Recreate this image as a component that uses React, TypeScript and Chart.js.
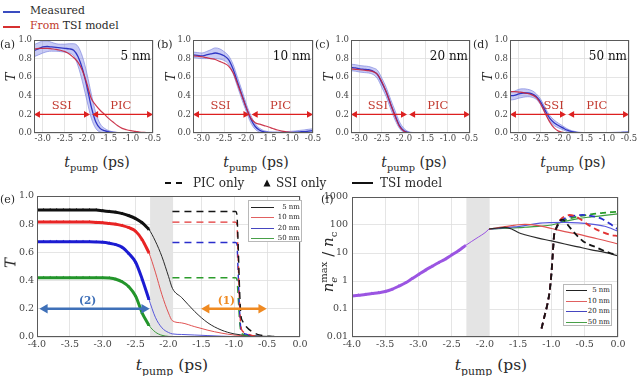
import React, { useEffect, useRef } from "react";
import { Chart, registerables } from "chart.js";

Chart.register(...registerables);

const FONT = "'DejaVu Serif', serif";
const INK = "#2a2a2a";
const TICK = "#444";
const GRID = "#dedede";

// ================= DATA: top panels (a)-(d) =================
const TOP_T = [-3.2, -3.1, -3.0, -2.9, -2.8, -2.7, -2.6, -2.5, -2.4, -2.3, -2.2, -2.1, -2.0, -1.9, -1.8, -1.7, -1.6, -1.5, -1.4, -1.3, -1.2, -1.1, -1.0, -0.9, -0.8, -0.7, -0.6, -0.5];
const TOP_X_TICKS = [-3.0, -2.5, -2.0, -1.5, -1.0, -0.5];
const TOP_Y_TICKS = [0, 0.2, 0.4, 0.6, 0.8, 1.0];

const A_MEAS = [0.885, 0.905, 0.925, 0.93, 0.925, 0.92, 0.915, 0.91, 0.905, 0.89, 0.82, 0.69, 0.5, 0.28, 0.12, 0.05, 0.025, 0.012, 0.006, 0.003, 0.001, 0, 0, 0, 0, 0, 0, 0];
const A_UP = [0.95, 0.97, 0.99, 0.99, 0.975, 0.96, 0.955, 0.955, 0.96, 0.96, 0.93, 0.82, 0.64, 0.42, 0.22, 0.1, 0.05, 0.025, 0.012, 0.006, 0.003, 0.001, 0, 0, 0, 0, 0, 0];
const A_LO = [0.82, 0.84, 0.86, 0.875, 0.88, 0.88, 0.875, 0.87, 0.86, 0.83, 0.72, 0.55, 0.35, 0.16, 0.05, 0.01, 0, 0, 0, 0, 0, 0, 0, 0, 0, 0, 0, 0];
const A_MODEL = [0.9, 0.91, 0.91, 0.91, 0.905, 0.9, 0.89, 0.875, 0.85, 0.81, 0.76, 0.67, 0.53, 0.37, 0.3, 0.245, 0.2, 0.155, 0.115, 0.078, 0.05, 0.035, 0.025, 0.018, 0.01, 0.006, 0.003, 0.001];

const B_MEAS = [0.84, 0.835, 0.83, 0.84, 0.85, 0.86, 0.85, 0.83, 0.79, 0.69, 0.55, 0.41, 0.27, 0.15, 0.07, 0.03, 0.012, 0.005, 0.003, 0.002, 0.002, 0.003, 0.005, 0.008, 0.012, 0.015, 0.02, 0.025];
const B_UP = [0.87, 0.865, 0.86, 0.875, 0.895, 0.915, 0.905, 0.875, 0.83, 0.74, 0.6, 0.46, 0.31, 0.19, 0.1, 0.05, 0.025, 0.015, 0.012, 0.012, 0.013, 0.015, 0.018, 0.022, 0.028, 0.033, 0.04, 0.045];
const B_LO = [0.81, 0.805, 0.8, 0.8, 0.8, 0.8, 0.795, 0.78, 0.74, 0.64, 0.5, 0.36, 0.23, 0.11, 0.04, 0.01, 0, 0, 0, 0, 0, 0, 0, 0, 0, 0.002, 0.005, 0.008];
const B_MODEL = [0.83, 0.825, 0.82, 0.81, 0.8, 0.79, 0.77, 0.75, 0.72, 0.65, 0.53, 0.4, 0.27, 0.16, 0.11, 0.095, 0.08, 0.065, 0.048, 0.032, 0.02, 0.012, 0.006, 0.003, 0.001, 0, 0, 0];

const C_MEAS = [0.705, 0.7, 0.69, 0.685, 0.68, 0.665, 0.63, 0.54, 0.44, 0.31, 0.19, 0.08, 0.025, 0.006, 0.002, 0.001, 0, 0, 0, 0, 0, 0, 0, 0, 0, 0, 0, 0.002];
const C_UP = [0.74, 0.735, 0.725, 0.72, 0.715, 0.7, 0.675, 0.59, 0.49, 0.36, 0.24, 0.12, 0.05, 0.015, 0.006, 0.004, 0.003, 0.003, 0.003, 0.003, 0.003, 0.003, 0.003, 0.003, 0.003, 0.004, 0.005, 0.006];
const C_LO = [0.67, 0.665, 0.655, 0.65, 0.645, 0.63, 0.585, 0.49, 0.39, 0.26, 0.14, 0.05, 0.005, 0, 0, 0, 0, 0, 0, 0, 0, 0, 0, 0, 0, 0, 0, 0];
const C_MODEL = [0.69, 0.685, 0.68, 0.675, 0.67, 0.66, 0.63, 0.55, 0.44, 0.31, 0.18, 0.07, 0.02, 0.004, 0, 0, 0, 0, 0, 0, 0, 0, 0, 0, 0, 0, 0, 0];

const D_MEAS = [0.4, 0.405, 0.42, 0.43, 0.43, 0.42, 0.39, 0.33, 0.24, 0.16, 0.11, 0.08, 0.055, 0.03, 0.015, 0.007, 0.003, 0.001, 0, 0, 0, 0, 0.001, 0.002, 0.003, 0.004, 0.006, 0.008];
const D_UP = [0.44, 0.45, 0.47, 0.475, 0.47, 0.455, 0.42, 0.36, 0.27, 0.19, 0.14, 0.105, 0.075, 0.045, 0.025, 0.013, 0.007, 0.004, 0.003, 0.003, 0.003, 0.004, 0.005, 0.006, 0.008, 0.01, 0.012, 0.014];
const D_LO = [0.355, 0.36, 0.375, 0.385, 0.39, 0.385, 0.36, 0.3, 0.21, 0.13, 0.08, 0.055, 0.035, 0.015, 0.005, 0.001, 0, 0, 0, 0, 0, 0, 0, 0, 0, 0, 0, 0.002];
const D_MODEL = [0.445, 0.445, 0.44, 0.435, 0.425, 0.41, 0.38, 0.31, 0.21, 0.12, 0.055, 0.02, 0.007, 0.002, 0, 0, 0, 0, 0, 0, 0, 0, 0, 0, 0, 0, 0, 0];

const TOP_ARROW_Y = 0.2;
const SSI_ARROW_X = [-3.11, -2.02];
const PIC_ARROW_X = [-1.79, -0.59];
const TOP_TEXT_Y = 0.29;
const PIC_TEXT_X = -1.23;
const SSI_TEXT_X = [-2.57, -2.58, -2.59, -2.21];
const NM_LABELS = ["5 nm", "10 nm", "20 nm", "50 nm"];

// ================= DATA: panel (e) =================
const E_X_TICKS = [-4.0, -3.5, -3.0, -2.5, -2.0, -1.5, -1.0, -0.5, 0.0];
const E_Y_TICKS = [0, 0.2, 0.4, 0.6, 0.8, 1.0];
const SHADE = [-2.28, -1.93];

const E_SSI_T = [-4.0, -3.9, -3.8, -3.7, -3.6, -3.5, -3.4, -3.3, -3.2, -3.1, -3.0, -2.9, -2.8, -2.7, -2.6, -2.5, -2.4, -2.3];
const E_SSI_5 = [0.9, 0.9, 0.9, 0.9, 0.9, 0.9, 0.9, 0.9, 0.9, 0.9, 0.895, 0.89, 0.885, 0.875, 0.86, 0.84, 0.81, 0.765];
const E_SSI_10 = [0.815, 0.815, 0.815, 0.815, 0.815, 0.815, 0.815, 0.815, 0.815, 0.812, 0.81, 0.805, 0.8, 0.79, 0.775, 0.75, 0.69, 0.6];
const E_SSI_20 = [0.675, 0.675, 0.675, 0.675, 0.675, 0.675, 0.675, 0.675, 0.675, 0.674, 0.672, 0.665, 0.655, 0.635, 0.59, 0.53, 0.41, 0.27];
const E_SSI_50 = [0.42, 0.42, 0.42, 0.42, 0.42, 0.42, 0.42, 0.42, 0.42, 0.42, 0.42, 0.418, 0.41, 0.39, 0.355, 0.29, 0.17, 0.085];

const E_TSI_T = [-4.0, -3.5, -3.0, -2.8, -2.6, -2.5, -2.4, -2.3, -2.2, -2.1, -2.0, -1.94, -1.8, -1.6, -1.4, -1.2, -1.0, -0.8, -0.6, -0.4, -0.2, 0.0];
const E_TSI_5 = [0.9, 0.9, 0.895, 0.885, 0.86, 0.84, 0.81, 0.765, 0.68, 0.57, 0.43, 0.345, 0.28, 0.18, 0.1, 0.05, 0.022, 0.011, 0.006, 0.003, 0.001, 0];
const E_TSI_10 = [0.815, 0.815, 0.81, 0.8, 0.775, 0.75, 0.69, 0.6, 0.46, 0.3, 0.17, 0.115, 0.1, 0.073, 0.048, 0.028, 0.014, 0.007, 0.003, 0.001, 0, 0];
const E_TSI_20 = [0.675, 0.675, 0.672, 0.655, 0.59, 0.53, 0.41, 0.27, 0.14, 0.065, 0.032, 0.022, 0.018, 0.014, 0.01, 0.006, 0.003, 0.001, 0, 0, 0, 0];
const E_TSI_50 = [0.42, 0.42, 0.42, 0.41, 0.355, 0.29, 0.17, 0.085, 0.035, 0.012, 0.004, 0.002, 0.001, 0, 0, 0, 0, 0, 0, 0, 0, 0];

const E_PIC_T = [-1.94, -0.98, -0.96, -0.94, -0.92, -0.9, -0.87, -0.82, -0.72, -0.62, -0.42, -0.22, 0.0];
const E_PIC_5 = [0.89, 0.89, 0.87, 0.65, 0.35, 0.16, 0.11, 0.075, 0.035, 0.015, 0.004, 0.001, 0];
const E_PIC_10 = [0.815, 0.815, 0.8, 0.55, 0.25, 0.08, 0.04, 0.025, 0.01, 0.005, 0.001, 0, 0];
const E_PIC_20 = [0.67, 0.67, 0.66, 0.45, 0.2, 0.06, 0.03, 0.02, 0.008, 0.004, 0.001, 0, 0];
const E_PIC_50 = [0.42, 0.42, 0.41, 0.28, 0.12, 0.04, 0.02, 0.012, 0.006, 0.003, 0.001, 0, 0];

const ARROW2_X = [-3.88, -2.37];
const ARROW1_X = [-1.42, -0.59];
const E_ARROW_Y = 0.2;
const LABEL2 = { x: -3.23, y: 0.255, text: "(2)" };
const LABEL1 = { x: -1.12, y: 0.255, text: "(1)" };

// ================= DATA: panel (f) =================
const F_Y_TICKS = [0.01, 0.1, 1, 10, 100, 1000];
const F_Y_LABELS = ["0.01", "0.1", "1", "10", "100", "1000"];

const F_SSI_T = [-4.0, -3.9, -3.8, -3.7, -3.6, -3.5, -3.4, -3.3, -3.2, -3.1, -3.0, -2.9, -2.8, -2.7, -2.6, -2.5, -2.4, -2.3];
const F_SSI = [0.29, 0.31, 0.33, 0.355, 0.38, 0.42, 0.5, 0.65, 0.85, 1.2, 1.7, 2.4, 3.3, 4.5, 6.0, 8.5, 12, 18];
const F_LINK_T = [-2.3, -2.2, -2.1, -2.0, -1.94];
const F_LINK = [18, 26, 37, 53, 72];

const F_TSI_T = [-1.94, -1.8, -1.7, -1.6, -1.5, -1.4, -1.2, -1.0, -0.8, -0.6, -0.4, -0.2, 0.0];
const F_TSI_5 = [72, 78, 82, 72, 54, 45, 34, 27, 21, 16.5, 13, 10.5, 8];
const F_TSI_10 = [72, 80, 88, 95, 102, 105, 95, 75, 58, 47, 36, 28, 21];
const F_TSI_20 = [72, 76, 80, 84, 88, 95, 115, 122, 124, 120, 108, 90, 60];
const F_TSI_50 = [72, 74, 76, 78, 80, 83, 90, 100, 135, 170, 195, 220, 250];

const F_PIC_T = [-1.15, -1.11, -1.07, -1.03, -1.0, -0.98, -0.96, -0.93, -0.9, -0.87, -0.83, -0.78, -0.73, -0.63, -0.53, -0.43, -0.33, -0.23, -0.12, 0.0];
const F_PIC_5 = [0.02, 0.05, 0.12, 0.4, 2, 10, 45, 75, 110, 145, 155, 120, 85, 45, 27, 20, 16, 12.5, 10, 8.5];
const F_PIC_10 = [0.02, 0.05, 0.12, 0.4, 2, 10, 45, 75, 115, 150, 185, 210, 228, 200, 140, 95, 70, 55, 45, 40];
const F_PIC_20 = [0.02, 0.05, 0.12, 0.4, 2, 10, 45, 75, 105, 130, 155, 180, 200, 220, 230, 215, 195, 160, 110, 70];
const F_PIC_50 = [0.02, 0.05, 0.12, 0.4, 2, 10, 45, 75, 100, 120, 140, 155, 170, 195, 215, 235, 255, 270, 285, 295];

const LEGEND_NAMES = ["5 nm", "10 nm", "20 nm", "50 nm"];

// ================= STYLE =================
const MEAS_COLOR = "#3036c4";
const MODEL_COLOR = "rgba(200,36,60,0.9)";
const BAND_EDGE = "#7f86e0";
const BAND_FILL = "rgba(110,118,230,0.38)";
const ARROW_RED = "#dd2020";
const TEXT_RED = "#c23a30";
const THICK = ["#111111", "#e82424", "#1c1cd2", "#23952b"];
const THIN = ["#2a2a2a", "#e05252", "#5858dc", "#3d9d3d"];
const DASH = ["#151515", "#e23434", "#2a2ecc", "#2c9c2c"];
const LEG = ["#222222", "#e06060", "#4646c0", "#48a048"];
const PURPLE = "#9b55e2";
const ORANGE = "#ef8a22";
const BLUE_ARROW = "#3f70b8";

const pts = (xs: number[], ys: number[]) => xs.map((x, i) => ({ x, y: ys[i] }));

// ================= PLUGINS =================
const framePlugin = {
  id: "frame",
  afterDraw(chart: any) {
    const { ctx, chartArea: a } = chart;
    ctx.save();
    ctx.strokeStyle = "#5a5a5a";
    ctx.lineWidth = 1;
    ctx.strokeRect(Math.round(a.left) + 0.5, Math.round(a.top) + 0.5, Math.round(a.right - a.left) - 1, Math.round(a.bottom - a.top) - 1);
    ctx.restore();
  },
};

const shadePlugin = {
  id: "shade",
  beforeDatasetsDraw(chart: any, _args: any, opts: any) {
    if (!opts || !opts.range) return;
    const { ctx, chartArea: a, scales } = chart;
    const x0 = scales.x.getPixelForValue(opts.range[0]);
    const x1 = scales.x.getPixelForValue(opts.range[1]);
    ctx.save();
    ctx.fillStyle = opts.color || "#e4e4e4";
    ctx.fillRect(x0, a.top, x1 - x0, a.bottom - a.top);
    ctx.restore();
  },
};

const textPlugin = {
  id: "texts",
  afterDatasetsDraw(chart: any, _args: any, opts: any) {
    if (!opts || !opts.items) return;
    const { ctx, scales } = chart;
    ctx.save();
    for (const it of opts.items) {
      ctx.font = `${it.bold ? "bold " : ""}${it.size}px ${FONT}`;
      ctx.fillStyle = it.color;
      ctx.textAlign = it.align || "center";
      ctx.textBaseline = "middle";
      const px = it.px !== undefined ? chart.chartArea.right + it.px : scales.x.getPixelForValue(it.x);
      ctx.fillText(it.text, px, scales.y.getPixelForValue(it.y));
    }
    ctx.restore();
  },
};

// ================= CONFIG HELPERS =================
interface Axis {
  min: number;
  max: number;
  ticks: number[];
  fmt: (v: number, i: number) => string;
  size: number;
  pad: number;
  font: number;
  type?: string;
}

function makeOptions(x: Axis, y: Axis, padTop: number, padRight: number, plugins: any) {
  return {
    animation: false,
    responsive: false,
    events: [],
    layout: { padding: { top: padTop, right: padRight, left: 0, bottom: 0 } },
    elements: { point: { radius: 0 }, line: { cubicInterpolationMode: "monotone" } },
    plugins: { legend: { display: false }, tooltip: { enabled: false }, ...plugins },
    scales: {
      x: {
        type: "linear",
        min: x.min,
        max: x.max,
        grid: { color: GRID, lineWidth: 0.8, drawTicks: false },
        border: { display: false },
        ticks: { font: { family: FONT, size: x.font }, color: TICK, padding: x.pad, maxRotation: 0, autoSkip: false, callback: (v: any, i: number) => x.fmt(Number(v), i) },
        afterBuildTicks: (s: any) => {
          s.ticks = x.ticks.map((v) => ({ value: v }));
        },
        afterFit: (s: any) => {
          s.height = x.size;
          s.paddingLeft = 0;
          s.paddingRight = 0;
        },
      },
      y: {
        type: y.type || "linear",
        min: y.min,
        max: y.max,
        grid: { color: GRID, lineWidth: 0.8, drawTicks: false },
        border: { display: false },
        ticks: { font: { family: FONT, size: y.font }, color: TICK, padding: y.pad, autoSkip: false, callback: (v: any, i: number) => y.fmt(Number(v), i) },
        afterBuildTicks: (s: any) => {
          s.ticks = y.ticks.map((v) => ({ value: v }));
        },
        afterFit: (s: any) => {
          s.width = y.size;
          s.paddingTop = 0;
          s.paddingBottom = 0;
        },
      },
    },
  };
}

const fix1 = (v: number) => v.toFixed(1);

function arrowDataset(xs: number[], yv: number, color: string, width: number, r: number) {
  return {
    data: pts(xs, [yv, yv]),
    borderColor: color,
    borderWidth: width,
    pointStyle: "triangle",
    pointRadius: r,
    pointRotation: [270, 90],
    pointBackgroundColor: color,
    pointBorderWidth: 0,
    cubicInterpolationMode: "default",
    tension: 0,
  };
}

interface Geom {
  x: number;
  y: number;
  w: number;
  h: number;
  yW: number;
  xH: number;
  padT: number;
  padR: number;
}
function geom(L: number, T: number, R: number, B: number, yW: number, xH: number, padT: number, padR: number): Geom {
  return { x: L - yW, y: T - padT, w: R - L + yW + padR, h: B - T + padT + xH, yW, xH, padT, padR };
}

const GA = geom(34, 40, 153, 133, 24, 16, 6, 10);
const GB = geom(193, 40, 313, 133, 24, 16, 6, 10);
const GC = geom(351, 40, 470, 133, 24, 16, 6, 10);
const GD = geom(510, 40, 629, 133, 24, 16, 6, 9);
const GE = geom(37, 196, 300, 337, 26, 16, 6, 12);
const GF = geom(352, 197, 618, 337, 30, 16, 6, 12);

function topConfig(g: Geom, meas: number[], up: number[], lo: number[], model: number[], idx: number) {
  const x: Axis = { min: -3.2, max: -0.5, ticks: TOP_X_TICKS, fmt: fix1, size: g.xH, pad: 1, font: 8.5 };
  const y: Axis = { min: 0, max: 1, ticks: TOP_Y_TICKS, fmt: fix1, size: g.yW, pad: 2, font: 8.5 };
  return {
    type: "line",
    data: {
      datasets: [
        arrowDataset(SSI_ARROW_X, TOP_ARROW_Y, ARROW_RED, 1.2, 4),
        arrowDataset(PIC_ARROW_X, TOP_ARROW_Y, ARROW_RED, 1.2, 4),
        { data: pts(TOP_T, model), borderColor: MODEL_COLOR, borderWidth: 1.2 },
        { data: pts(TOP_T, meas), borderColor: MEAS_COLOR, borderWidth: 1.3 },
        { data: pts(TOP_T, up), borderColor: BAND_EDGE, borderWidth: 0.7, fill: false },
        { data: pts(TOP_T, lo), borderColor: BAND_EDGE, borderWidth: 0.7, fill: "-1", backgroundColor: BAND_FILL },
      ],
    },
    options: makeOptions(x, y, g.padT, g.padR, {
      texts: {
        items: [
          { x: SSI_TEXT_X[idx], y: TOP_TEXT_Y, text: "SSI", color: TEXT_RED, size: 11.5 },
          { x: PIC_TEXT_X, y: TOP_TEXT_Y, text: "PIC", color: TEXT_RED, size: 11.5 },
          { px: -2, y: 0.82, text: NM_LABELS[idx], color: "#111", size: 12, align: "right" },
        ],
      },
    }),
    plugins: [framePlugin, textPlugin],
  };
}

function eConfig(g: Geom) {
  const x: Axis = { min: -4, max: 0, ticks: E_X_TICKS, fmt: fix1, size: g.xH, pad: 2, font: 9.5 };
  const y: Axis = { min: 0, max: 1, ticks: E_Y_TICKS, fmt: fix1, size: g.yW, pad: 3, font: 9.5 };
  const ssi = [E_SSI_5, E_SSI_10, E_SSI_20, E_SSI_50];
  const tsi = [E_TSI_5, E_TSI_10, E_TSI_20, E_TSI_50];
  const pic = [E_PIC_5, E_PIC_10, E_PIC_20, E_PIC_50];
  const datasets: any[] = [arrowDataset(ARROW2_X, E_ARROW_Y, BLUE_ARROW, 2.4, 5.5), arrowDataset(ARROW1_X, E_ARROW_Y, ORANGE, 2.4, 5.5)];
  ssi.forEach((s, i) =>
    datasets.push({ data: pts(E_SSI_T, s), borderColor: THICK[i], borderWidth: 3, pointStyle: "triangle", pointRadius: 2, pointBackgroundColor: THICK[i], pointBorderWidth: 0 })
  );
  pic.forEach((s, i) => datasets.push({ data: pts(E_PIC_T, s), borderColor: DASH[i], borderWidth: 1.4, borderDash: [7, 5] }));
  tsi.forEach((s, i) => datasets.push({ data: pts(E_TSI_T, s), borderColor: THIN[i], borderWidth: 1 }));
  return {
    type: "line",
    data: { datasets },
    options: makeOptions(x, y, g.padT, g.padR, {
      shade: { range: SHADE, color: "#e4e4e4" },
      texts: {
        items: [
          { x: LABEL2.x, y: LABEL2.y, text: LABEL2.text, color: BLUE_ARROW, size: 10.5, bold: true },
          { x: LABEL1.x, y: LABEL1.y, text: LABEL1.text, color: ORANGE, size: 10.5, bold: true },
        ],
      },
    }),
    plugins: [shadePlugin, framePlugin, textPlugin],
  };
}

function fConfig(g: Geom) {
  const x: Axis = { min: -4, max: 0, ticks: E_X_TICKS, fmt: fix1, size: g.xH, pad: 2, font: 9.5 };
  const y: Axis = { min: 0.01, max: 1000, ticks: F_Y_TICKS, fmt: (_v, i) => F_Y_LABELS[i], size: g.yW, pad: 4, font: 9.5, type: "logarithmic" };
  const tsi = [F_TSI_5, F_TSI_10, F_TSI_20, F_TSI_50];
  const pic = [F_PIC_5, F_PIC_10, F_PIC_20, F_PIC_50];
  const datasets: any[] = [];
  datasets.push({ data: pts(F_SSI_T, F_SSI), borderColor: PURPLE, borderWidth: 3, pointStyle: "triangle", pointRadius: 2, pointBackgroundColor: PURPLE, pointBorderWidth: 0 });
  pic.forEach((s, i) => datasets.push({ data: pts(F_PIC_T, s), borderColor: DASH[i], borderWidth: 1.8, borderDash: [6, 4] }));
  tsi.forEach((s, i) => datasets.push({ data: pts(F_TSI_T, s), borderColor: THIN[i], borderWidth: 1.2 }));
  datasets.push({ data: pts(F_LINK_T, F_LINK), borderColor: PURPLE, borderWidth: 1 });
  return {
    type: "line",
    data: { datasets },
    options: makeOptions(x, y, g.padT, g.padR, { shade: { range: SHADE, color: "#e4e4e4" } }),
    plugins: [shadePlugin, framePlugin],
  };
}

// ================= COMPONENTS =================
function Panel({ g, make }: { g: Geom; make: () => any }) {
  const ref = useRef<HTMLCanvasElement>(null);
  useEffect(() => {
    const c = new Chart(ref.current as HTMLCanvasElement, make());
    return () => c.destroy();
  }, []);
  return <canvas ref={ref} width={g.w} height={g.h} style={{ position: "absolute", left: g.x, top: g.y, width: g.w, height: g.h }} />;
}

function Txt(props: { x: number; base: number; size: number; align?: string; color?: string; italic?: boolean; bold?: boolean; children: any }) {
  const { x, base, size, align = "left", color = INK, italic, bold, children } = props;
  const tx = align === "center" ? "-50%" : align === "right" ? "-100%" : "0";
  return (
    <div
      style={{
        position: "absolute",
        left: x,
        top: base - 0.846 * size,
        fontSize: size,
        lineHeight: 1,
        fontFamily: FONT,
        color,
        whiteSpace: "nowrap",
        transform: `translateX(${tx})`,
        fontStyle: italic ? "italic" : "normal",
        fontWeight: bold ? "bold" : "normal",
      }}
    >
      {children}
    </div>
  );
}

function Bar({ x, y, w, h, color }: { x: number; y: number; w: number; h: number; color: string }) {
  return <div style={{ position: "absolute", left: x, top: Math.round(y - h / 2), width: w, height: h, background: color }} />;
}

function XTitle({ cx, base, size }: { cx: number; base: number; size: number }) {
  return (
    <Txt x={cx} base={base} size={size} align="center">
      <i>t</i>
      <span style={{ fontSize: size * 0.7, verticalAlign: -size * 0.3 }}>pump</span> (ps)
    </Txt>
  );
}

function YT({ cx, cy, size }: { cx: number; cy: number; size: number }) {
  return (
    <div style={{ position: "absolute", left: cx, top: cy, transform: "translate(-50%,-50%) rotate(-90deg)", fontFamily: FONT, fontStyle: "italic", fontSize: size, lineHeight: 1, color: INK }}>
      T
    </div>
  );
}

function Legend({ x, y, w, h, rows, size }: { x: number; y: number; w: number; h: number; rows: number[]; size: number }) {
  return (
    <div style={{ position: "absolute", left: x, top: y, width: w, height: h, border: "1px solid #b8b8b8", background: "#fff", boxSizing: "border-box" }}>
      {LEGEND_NAMES.map((n, i) => (
        <React.Fragment key={n}>
          <Bar x={2} y={rows[i]} w={Math.round(w * 0.42)} h={1} color={LEG[i]} />
          <Txt x={w - 3} base={rows[i] + size * 0.36} size={size} align="right" color="#222">
            {n}
          </Txt>
        </React.Fragment>
      ))}
    </div>
  );
}

export default function App() {
  return (
    <div style={{ position: "fixed", left: 0, top: 0, width: 639, height: 376, background: "#fff", overflow: "hidden" }}>
      {/* top legend */}
      <Bar x={3} y={12} w={17} h={2} color="#3a4cc0" />
      <Txt x={30} base={15.5} size={10.8}>Measured</Txt>
      <Bar x={3} y={27} w={17} h={2} color="#d63030" />
      <Txt x={30} base={30.5} size={10.8}>
        <span style={{ color: "#c0392b" }}>From</span> TSI model
      </Txt>

      <Panel g={GA} make={() => topConfig(GA, A_MEAS, A_UP, A_LO, A_MODEL, 0)} />
      <Panel g={GB} make={() => topConfig(GB, B_MEAS, B_UP, B_LO, B_MODEL, 1)} />
      <Panel g={GC} make={() => topConfig(GC, C_MEAS, C_UP, C_LO, C_MODEL, 2)} />
      <Panel g={GD} make={() => topConfig(GD, D_MEAS, D_UP, D_LO, D_MODEL, 3)} />
      <Panel g={GE} make={() => eConfig(GE)} />
      <Panel g={GF} make={() => fConfig(GF)} />

      {/* panel letters */}
      <Txt x={0} base={48} size={11}>(a)</Txt>
      <Txt x={157} base={48} size={11}>(b)</Txt>
      <Txt x={315} base={48} size={11}>(c)</Txt>
      <Txt x={473} base={48} size={11}>(d)</Txt>
      <Txt x={0} base={203} size={11}>(e)</Txt>
      <Txt x={321} base={203} size={11}>(f)</Txt>

      {/* axis titles */}
      <YT cx={10} cy={77} size={13} />
      <YT cx={170} cy={77} size={13} />
      <YT cx={328} cy={77} size={13} />
      <YT cx={487} cy={77} size={13} />
      <YT cx={11} cy={263} size={15} />
      <XTitle cx={97} base={166.5} size={14} />
      <XTitle cx={256} base={166.5} size={14} />
      <XTitle cx={414} base={166.5} size={14} />
      <XTitle cx={573} base={166.5} size={14} />
      <XTitle cx={172} base={371} size={15.5} />
      <XTitle cx={491} base={371} size={15.5} />
      <div style={{ position: "absolute", left: 329, top: 262, transform: "translate(-50%,-50%) rotate(-90deg)", fontFamily: FONT, fontSize: 15, lineHeight: 1, color: INK, whiteSpace: "nowrap" }}>
        <i>n</i>
        <span style={{ display: "inline-block", fontSize: 10, lineHeight: 1, verticalAlign: -4 }}>
          <span style={{ display: "block" }}>max</span>
          <span style={{ display: "block", fontStyle: "italic" }}>e</span>
        </span>
        {" / "}
        <i>n</i>
        <span style={{ fontSize: 10, verticalAlign: -4 }}>c</span>
      </div>

      {/* middle legend */}
      <svg style={{ position: "absolute", left: 165, top: 180 }} width={18} height={6}>
        <line x1={0} y1={3} x2={18} y2={3} stroke="#111" strokeWidth={2} strokeDasharray="6,5" />
      </svg>
      <Txt x={193} base={187.5} size={12}>PIC only</Txt>
      <svg style={{ position: "absolute", left: 263, top: 179 }} width={8} height={8}>
        <polygon points="4,0.5 7.5,7.5 0.5,7.5" fill="#111" />
      </svg>
      <Txt x={276} base={187.5} size={12}>SSI only</Txt>
      <Bar x={352} y={183} w={21} h={2} color="#111" />
      <Txt x={380} base={187.5} size={12}>TSI model</Txt>

      {/* legends inside e, f */}
      <Legend x={248} y={200} w={54} h={42} rows={[6, 16, 27, 37]} size={7} />
      <Legend x={563} y={284} w={49} h={42} rows={[5, 16, 26, 37]} size={7} />
    </div>
  );
}
